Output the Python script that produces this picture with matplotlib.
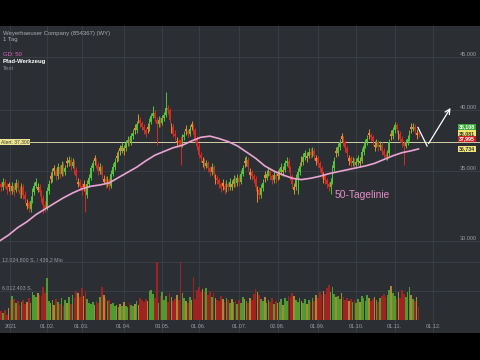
import matplotlib
matplotlib.use("Agg")
import matplotlib.pyplot as plt
from matplotlib.ticker import NullLocator
import numpy as np

plt.rcParams['font.family'] = ['Liberation Sans', 'DejaVu Sans']

# trading day index 0 = 04.01.2021, first candle is 7 days before
first_day = -7

opens = [33.8, 34.0, 33.8, 34.2, 33.9, 34.0, 33.8, 33.5, 33.9, 33.6,
         34.1, 33.6, 33.2, 33.8, 33.2, 32.4, 32.6, 32.2, 32.8, 33.4,
         33.9, 33.6, 33.8, 33.4, 33.0, 32.5, 32.3, 33.5, 34.6, 34.4,
         35.2, 35.0, 34.6, 35.3, 34.8, 35.5, 34.9, 35.8, 35.6, 35.9,
         35.4, 35.7, 35.1, 34.0, 34.2, 33.9, 34.0, 33.8, 33.2, 34.0,
         34.5, 35.2, 36.0, 35.8, 35.5, 35.0, 35.3, 34.2, 34.4, 34.0,
         34.3, 33.9, 34.8, 35.3, 36.2, 36.0, 36.8, 36.6, 36.6, 36.8,
         37.2, 37.5, 37.3, 37.8, 38.5, 38.3, 39.4, 39.2, 38.9, 38.6,
         38.3, 38.6, 38.4, 39.0, 39.5, 39.8, 39.2, 38.8, 39.2, 38.9,
         39.3, 39.6, 40.2, 40.0, 38.4, 38.6, 38.0, 37.2, 37.4, 37.5,
         37.1, 37.7, 38.4, 38.2, 38.0, 38.8, 38.6, 38.3, 37.6, 37.0,
         36.3, 35.6, 35.8, 35.4, 35.6, 35.2, 34.9, 35.3, 34.3, 34.5,
         34.3, 34.0, 34.1, 33.9, 33.6, 34.0, 33.8, 33.8, 34.0, 34.4,
         34.1, 34.5, 34.2, 34.8, 35.8, 35.6, 35.9, 34.7, 34.9, 34.6,
         34.4, 33.4, 33.6, 33.2, 33.7, 34.7, 34.5, 34.8, 35.0, 34.6,
         34.3, 34.7, 34.8, 34.6, 34.9, 34.9, 35.1, 35.6, 35.8, 35.2,
         34.6, 33.6, 33.8, 34.5, 34.9, 35.9, 35.7, 36.1, 36.0, 36.2,
         36.5, 36.3, 36.6, 35.8, 36.0, 35.6, 35.2, 34.4, 34.6, 34.3,
         34.0, 33.8, 34.2, 35.2, 36.6, 36.4, 36.9, 37.8, 37.6, 37.3,
         36.8, 35.8, 36.0, 35.6, 35.8, 35.5, 35.7, 35.6, 35.8, 36.5,
         37.0, 37.3, 38.1, 37.9, 37.7, 36.9, 37.1, 37.3, 36.9, 37.1,
         36.6, 36.3, 36.1, 36.4, 38.0, 37.8, 38.3, 38.7, 37.8, 38.0,
         37.6, 37.2, 37.0, 37.3, 37.6, 38.6, 38.4, 38.6, 37.9, 38.1]

closes = [34.0, 33.8, 34.2, 33.9, 33.6, 33.8, 33.5, 33.9, 33.4, 34.1,
          33.7, 33.3, 33.8, 33.2, 32.9, 32.6, 32.3, 32.8, 33.4, 33.9,
          34.2, 33.8, 33.4, 33.0, 32.5, 32.3, 33.5, 34.0, 34.4, 34.9,
          35.0, 34.6, 35.3, 34.8, 35.5, 34.9, 35.2, 35.6, 35.9, 35.4,
          35.7, 35.1, 34.6, 34.2, 33.9, 33.5, 33.8, 33.2, 34.0, 34.5,
          35.2, 35.6, 35.8, 35.5, 35.0, 35.3, 34.7, 34.4, 34.0, 34.3,
          33.9, 34.8, 35.3, 35.7, 36.0, 36.4, 36.6, 37.0, 36.8, 37.2,
          37.5, 37.3, 37.8, 38.1, 38.3, 38.8, 39.2, 38.9, 38.6, 38.3,
          38.0, 38.4, 39.0, 39.5, 39.8, 39.3, 38.8, 39.2, 38.9, 39.3,
          39.6, 40.2, 40.0, 39.2, 38.6, 38.0, 37.8, 37.4, 37.2, 37.1,
          37.7, 37.9, 38.2, 38.0, 38.4, 38.6, 38.3, 37.6, 37.0, 36.3,
          36.0, 35.8, 35.4, 35.6, 35.2, 34.9, 35.3, 34.8, 34.5, 34.3,
          34.0, 33.7, 33.9, 33.6, 34.0, 33.8, 34.2, 34.0, 34.4, 34.1,
          34.5, 34.2, 34.8, 35.2, 35.6, 35.9, 35.3, 34.9, 34.6, 34.4,
          33.8, 33.6, 33.2, 33.7, 34.1, 34.5, 34.8, 35.0, 34.6, 34.3,
          34.7, 34.4, 34.6, 34.9, 35.3, 35.1, 35.6, 35.8, 35.2, 34.6,
          34.0, 33.8, 34.5, 34.9, 35.4, 35.7, 36.1, 36.4, 36.2, 36.5,
          36.3, 36.6, 36.2, 36.0, 35.6, 35.2, 34.8, 34.6, 34.3, 34.0,
          33.8, 34.2, 35.2, 35.8, 36.4, 36.9, 37.3, 37.6, 37.3, 36.8,
          36.4, 36.0, 35.6, 35.8, 35.5, 35.7, 36.0, 35.8, 36.5, 37.0,
          37.3, 37.6, 37.9, 37.7, 37.4, 37.1, 37.3, 36.9, 37.1, 36.6,
          36.3, 36.1, 36.4, 37.3, 37.8, 38.3, 38.7, 38.4, 38.0, 37.6,
          37.2, 37.0, 37.3, 37.6, 38.0, 38.4, 38.6, 38.3, 38.1, 38.0]

highs = [34.3, 34.2, 34.5, 34.4, 34.1, 34.2, 34.0, 34.2, 34.1, 34.4,
         34.3, 33.9, 34.1, 34.0, 33.5, 32.9, 32.8, 33.1, 33.7, 34.2,
         34.5, 34.1, 34.0, 33.6, 33.2, 32.8, 33.8, 34.3, 34.9, 35.2,
         35.5, 35.2, 35.6, 35.5, 35.8, 35.7, 35.5, 36.1, 36.2, 36.1,
         36.0, 35.9, 35.3, 34.5, 34.4, 34.1, 34.3, 34.0, 34.3, 34.8,
         35.5, 35.9, 36.3, 36.0, 35.7, 35.6, 35.5, 34.7, 34.6, 34.6,
         34.5, 35.1, 35.6, 36.0, 36.5, 36.7, 37.1, 37.3, 37.1, 37.5,
         37.8, 37.7, 38.1, 38.4, 38.8, 39.1, 39.7, 39.4, 39.1, 38.8,
         38.5, 38.9, 39.3, 39.8, 40.4, 40.0, 39.4, 39.5, 39.4, 39.6,
         39.9, 41.7, 40.5, 40.2, 38.9, 38.8, 38.3, 37.7, 37.6, 37.8,
         38.0, 38.2, 38.7, 38.4, 38.7, 39.1, 38.8, 38.5, 37.8, 37.2,
         36.5, 36.1, 36.0, 35.9, 35.8, 35.4, 35.6, 35.5, 34.8, 34.7,
         34.5, 34.2, 34.4, 34.1, 34.3, 34.2, 34.5, 34.3, 34.7, 34.6,
         34.8, 34.7, 35.1, 35.5, 36.1, 36.2, 36.1, 35.2, 35.1, 34.8,
         34.6, 33.9, 33.8, 34.0, 34.4, 35.0, 35.1, 35.3, 35.2, 34.8,
         35.0, 34.9, 35.1, 35.2, 35.6, 35.4, 35.9, 36.1, 36.0, 35.4,
         34.8, 34.1, 34.8, 35.2, 35.7, 36.2, 36.4, 36.7, 36.5, 36.8,
         36.8, 36.9, 36.8, 36.3, 36.2, 35.8, 35.4, 34.9, 34.8, 34.5,
         34.2, 34.5, 35.5, 36.1, 36.9, 37.2, 37.6, 38.1, 37.8, 37.5,
         37.0, 36.3, 36.2, 36.1, 36.0, 36.0, 36.3, 36.1, 36.8, 37.3,
         37.6, 37.9, 38.4, 38.1, 37.9, 37.4, 37.6, 37.5, 37.4, 37.3,
         36.8, 36.5, 36.7, 37.6, 38.3, 38.6, 39.0, 38.9, 38.3, 38.2,
         37.8, 37.4, 37.6, 37.9, 38.3, 38.9, 38.9, 38.8, 38.4, 38.3]

lows = [33.6, 33.5, 33.6, 33.7, 33.3, 33.5, 33.2, 33.3, 33.1, 33.4,
        33.5, 33.0, 33.0, 32.9, 32.6, 32.2, 32.0, 32.0, 32.6, 33.2,
        33.7, 33.4, 33.1, 32.7, 31.9, 32.0, 32.1, 33.3, 34.1, 34.2,
        34.7, 34.3, 34.4, 34.5, 34.6, 34.6, 34.7, 35.3, 35.4, 35.1,
        35.2, 34.8, 34.3, 33.8, 33.6, 33.2, 33.5, 32.0, 33.0, 33.8,
        34.3, 35.0, 35.5, 35.2, 34.7, 34.8, 34.4, 34.0, 33.7, 33.8,
        33.6, 33.7, 34.6, 35.1, 35.7, 35.8, 36.3, 36.4, 36.3, 36.6,
        37.0, 37.0, 37.1, 37.6, 38.0, 38.1, 38.9, 38.6, 38.3, 38.0,
        37.7, 38.1, 38.2, 38.8, 39.3, 39.0, 37.1, 38.6, 38.6, 38.7,
        39.1, 39.4, 39.7, 38.9, 38.1, 37.7, 37.5, 36.9, 36.9, 35.5,
        36.9, 37.5, 37.9, 37.7, 37.8, 38.3, 38.0, 37.3, 36.7, 36.0,
        35.7, 35.3, 35.1, 35.2, 34.9, 34.6, 34.7, 34.5, 34.0, 34.0,
        33.7, 33.4, 33.6, 33.3, 33.4, 33.5, 33.6, 33.6, 33.8, 33.8,
        33.9, 33.9, 34.0, 34.6, 35.3, 35.4, 35.0, 34.4, 34.3, 34.1,
        33.5, 32.7, 32.9, 33.0, 33.5, 34.2, 34.3, 34.6, 34.3, 34.0,
        34.1, 34.1, 34.3, 34.4, 34.7, 34.6, 34.9, 35.4, 34.9, 34.3,
        33.7, 33.3, 33.6, 33.3, 34.7, 35.4, 35.5, 35.9, 35.7, 36.0,
        36.0, 36.1, 35.9, 35.5, 35.3, 34.9, 34.5, 34.1, 34.0, 33.7,
        33.5, 33.3, 34.0, 35.0, 36.1, 36.2, 36.7, 37.3, 37.0, 36.5,
        36.1, 35.5, 35.3, 35.4, 35.2, 35.3, 35.5, 35.3, 35.6, 36.3,
        36.8, 37.1, 37.6, 37.4, 37.1, 36.6, 36.9, 36.6, 36.7, 36.3,
        36.0, 35.9, 35.9, 36.2, 37.5, 37.6, 38.1, 38.1, 37.5, 37.3,
        36.9, 35.5, 36.8, 37.1, 37.4, 38.1, 38.2, 38.0, 37.6, 37.7]

# volume in millions of shares
volumes = [1.2, 1.8, 1.5, 2.0, 1.0, 2.5, 4.2, 5.0, 4.4, 3.6,
           3.9, 3.2, 3.7, 4.1, 3.4, 3.8, 4.6, 3.5, 5.7, 5.2,
           4.8, 5.5, 5.1, 4.9, 6.8, 5.6, 8.7, 4.0, 3.5, 4.2,
           3.1, 4.4, 3.8, 3.3, 4.6, 3.0, 4.1, 3.6, 4.8, 3.4,
           5.2, 4.6, 6.0, 5.5, 4.8, 6.6, 5.0, 5.9, 4.3, 3.6,
           3.4, 3.8, 3.2, 4.0, 3.5, 4.7, 6.8, 5.2, 4.6, 3.9,
           4.2, 3.3, 3.6, 2.9, 3.1, 2.6, 3.4, 2.8, 3.7, 3.0,
           2.7, 3.5, 3.2, 2.9, 3.3, 4.0, 3.1, 4.5, 4.2, 3.8,
           4.4, 3.9, 6.0, 6.2, 5.4, 4.6, 12.0, 3.6, 5.0, 5.8,
           4.1, 4.9, 3.8, 5.5, 4.7, 3.9, 4.4, 5.1, 4.2, 12.0,
           5.6, 4.5, 4.0, 3.6, 4.8, 4.2, 8.9, 4.4, 6.2, 6.8,
           5.9, 6.4, 5.7, 6.6, 5.2, 6.0, 4.8, 5.5, 4.6, 4.2,
           3.9, 5.0, 4.3, 3.7, 4.6, 4.1, 3.5, 4.4, 3.8, 4.0,
           3.4, 4.2, 3.6, 4.8, 4.4, 3.9, 3.5, 4.6, 4.1, 5.3,
           6.4, 5.8, 5.1, 4.3, 3.9, 4.7, 3.6, 4.2, 3.8, 4.5,
           3.3, 4.0, 3.5, 3.8, 4.4, 3.2, 4.6, 3.9, 5.0, 4.8,
           5.6, 4.9, 4.2, 3.7, 4.5, 4.0, 3.6, 4.3, 3.4, 4.1,
           3.8, 4.5, 3.9, 5.2, 4.6, 5.8, 5.1, 6.1, 5.4, 6.6,
           7.2, 5.9, 6.8, 5.3, 4.7, 5.0, 4.4, 5.6, 4.8, 4.2,
           4.6, 3.9, 4.4, 3.7, 4.1, 3.5, 4.3, 3.8, 4.9, 4.5,
           4.0, 5.2, 4.6, 3.9, 4.4, 4.8, 4.1, 3.7, 4.5, 5.0,
           5.4, 4.7, 5.1, 6.3, 7.0, 5.5, 4.9, 4.3, 5.8, 4.6,
           6.2, 5.4, 4.7, 5.9, 6.8, 5.1, 4.4, 3.9, 4.8, 2.6]

# 50 day line, read every few days
ma_days = [-7, -2, 3, 8, 13, 18, 23, 28, 33, 38, 43, 48, 53, 58, 63, 68,
           73, 78, 83, 88, 93, 98, 103, 108, 113, 118, 123, 128, 133, 138,
           143, 148, 153, 158, 163, 168, 173, 178, 183, 188, 193, 198, 203,
           208, 213, 218, 222]
ma_vals = [30.0, 30.4, 30.9, 31.3, 31.8, 32.2, 32.6, 33.0, 33.35, 33.65,
           33.85, 33.95, 34.1, 34.5, 34.9, 35.3, 35.8, 36.25, 36.55, 36.85,
           37.05, 37.4, 37.7, 37.8, 37.6, 37.35, 37.0, 36.5, 36.0, 35.4,
           35.0, 34.7, 34.45, 34.35, 34.45, 34.6, 34.8, 34.95, 35.1, 35.25,
           35.4, 35.6, 35.9, 36.2, 36.45, 36.6, 36.75]

tick_days = [-1, 19, 38, 61, 82, 102, 124, 145, 167, 188, 209, 230]
tick_labels = ['2021', '01.02.', '01.03.', '01.04.', '03.05.', '01.06.',
               '01.07.', '02.08.', '01.09.', '01.10.', '01.11.', '01.12.']
price_levels = [30, 35, 40, 45]
price_labels = ['30.000', '35.000', '40.000', '45.000']
alert_level = 37.3
vol_levels = [6.012403, 12.0248]
vol_labels = ['6.012.403 S.', '12.024.800 S. / 436,2 Mio']

arrow_days = [221.7, 226.7, 240.3]
arrow_prices = [38.53, 36.99, 40.44]

BG = '#2b2f34'
GRID = '#3b4046'
GREEN = '#55c43a'
RED = '#d42a26'
ORANGE = '#e2902c'
VGREEN = '#4e9c30'
VRED = '#a22222'
VORANGE = '#a88a34'
PINK = '#eaa4d4'

days = np.arange(first_day, first_day + len(closes))
o = np.array(opens)
c = np.array(closes)
prev = np.concatenate([[o[0]], c[:-1]])

cols, vcols = [], []
for i in range(len(c)):
    if c[i] >= o[i] and c[i] >= prev[i]:
        cols.append(GREEN); vcols.append(VGREEN)
    elif c[i] < o[i] and c[i] < prev[i]:
        cols.append(RED); vcols.append(VRED)
    else:
        cols.append(ORANGE); vcols.append(VORANGE)

fig = plt.figure(figsize=(4.8, 3.6), dpi=100, facecolor='black')
rect = [0, 27 / 360, 1, 307 / 360]

# volume panel (also holds the background)
axv = fig.add_axes(rect)
axv.set_facecolor(BG)
for s in axv.spines.values():
    s.set_visible(False)
axv.set_xticks([]); axv.set_yticks([])
axv.set_xlim(-6.67, 255.6)
axv.set_ylim(-2.69, 60.9)
for t in tick_days:
    axv.axvline(t, color=GRID, lw=0.6, zorder=0)
for lv, lb in zip(vol_levels, vol_labels):
    axv.axhline(lv, color=GRID, lw=0.6, zorder=0)
    axv.text(0.005, lv, lb, transform=axv.get_yaxis_transform(), fontsize=3.8,
             color='#9a9ea3', ha='left', va='bottom')
axv.bar(days, volumes, width=0.9, color=vcols, linewidth=0, zorder=1)

# price panel
ax = fig.add_axes(rect, sharex=axv)
ax.patch.set_alpha(0)
ax.set_yscale('log')
ax.set_ylim(24.5, 48.18)
ax.set_xlim(-6.67, 255.6)
ax.axis('off')
ax.yaxis.set_minor_locator(NullLocator())

for lv, lb in zip(price_levels, price_labels):
    ax.axhline(lv, color=GRID, lw=0.6, zorder=0)
    ax.text(0.993, lv, lb, transform=ax.get_yaxis_transform(), fontsize=4,
            color='#9a9ea3', ha='right', va='bottom')

ax.axhline(alert_level, color='#d4cda8', lw=0.7, zorder=1)
ax.text(0.002, alert_level, 'Alert: 37,300', transform=ax.get_yaxis_transform(),
        fontsize=3.6, color='#3a3a2a', ha='left', va='center',
        bbox=dict(boxstyle='square,pad=0.15', fc='#eee795', ec='none'))

ax.vlines(days, lows, highs, colors=cols, lw=0.7, zorder=2)
body_lo = np.minimum(o, c)
body_h = np.maximum(np.abs(c - o), 0.08)
ax.bar(days, body_h, bottom=body_lo, width=0.9, color=cols, linewidth=0, zorder=3)

ax.plot(ma_days, ma_vals, color=PINK, lw=1.2, zorder=4)
ax.text(191, 33.2, '50-Tagelinie', fontsize=7.4, color='#e58cc6', ha='center', va='center')

# hand drawn arrow
ax.plot(arrow_days[:2], arrow_prices[:2], color='white', lw=0.9, zorder=5)
ax.annotate('', xy=(arrow_days[2], arrow_prices[2]), xytext=(arrow_days[1], arrow_prices[1]),
            arrowprops=dict(arrowstyle='->', color='white', lw=0.9, mutation_scale=9))

for t, lb in zip(tick_days, tick_labels):
    ax.text(t, 0.02, lb, transform=ax.get_xaxis_transform(), fontsize=4,
            color='#9a9ea3', ha='center', va='center')

# last price boxes on the right
boxes = [('38,108', 0.671, '#3aa83a', 'white'),
         ('38,081', 0.651, '#f0e76a', '#333333'),
         ('37,995', 0.632, '#cf2020', 'white'),
         ('36,734', 0.599, '#f0e67c', '#333333')]
for txt, yy, fc, tc in boxes:
    ax.text(0.973, yy, txt, transform=ax.transAxes, fontsize=3.8, color=tc,
            ha='center', va='center', fontweight='bold',
            bbox=dict(boxstyle='square,pad=0.15', fc=fc, ec='none'))

# header
fig.text(3 / 480, 1 - 33 / 360, 'Weyerhaeuser Company (854367) (WY)', fontsize=4.3,
         color='#a9adb2', va='center')
fig.text(3 / 480, 1 - 40 / 360, '1 Tag', fontsize=4.3, color='#a9adb2', va='center')
fig.text(3 / 480, 1 - 54 / 360, 'GD: 50', fontsize=4.3, color='#e060c0', va='center')
fig.text(3 / 480, 1 - 61 / 360, 'Pfad-Werkzeug', fontsize=4.3, color='white',
         fontweight='bold', va='center')
fig.text(3 / 480, 1 - 68 / 360, 'Text', fontsize=4.3, color='#8a8e93', va='center')

fig.savefig('out.png', dpi=100, facecolor='black')
